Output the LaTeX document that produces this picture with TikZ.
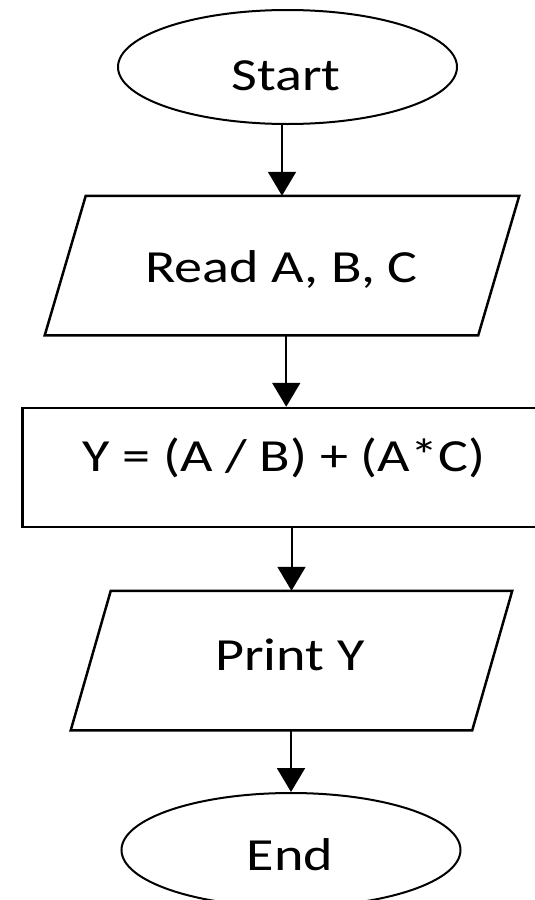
\documentclass[tikz,border=0pt]{standalone}
\usepackage{fontspec}
\setmainfont{Carlito}[FakeStretch=1.22]
\usetikzlibrary{shapes.geometric,arrows.meta}
\begin{document}
\begin{tikzpicture}[x=1pt,y=-1pt,
  term/.style={ellipse,draw,line width=2pt,minimum width=339pt,minimum height=114pt,inner sep=0pt},
  proc/.style={rectangle,draw,line width=2.5pt,minimum width=527.5pt,minimum height=119pt,inner sep=0pt},
  iobox/.style={rectangle,draw=none,inner sep=0pt,outer sep=1.25pt},
  io/.style={draw,line width=2.5pt,line join=miter},
  lbl/.style={font=\fontsize{46}{50}\selectfont,text=black,inner sep=0pt,anchor=base},
  arr/.style={line width=2pt,-{Triangle[width=28pt,length=24pt]}}]
\useasboundingbox (0,0) rectangle (535,900);
\clip (0,0) rectangle (535,900);
% shapes
\node[term] (start) at (287.5,67) {};
\node[iobox,minimum width=472pt,minimum height=137pt] (read) at (282,265.5) {};
\draw[io] ([xshift=41pt]read.north west) -- (read.north east) -- ([xshift=-41pt]read.south east) -- (read.south west) -- cycle;
\node[proc] (calc) at (286.25,467.5) {};
\node[iobox,minimum width=439pt,minimum height=137pt] (print) at (291.5,660.5) {};
\draw[io] ([xshift=40pt]print.north west) -- (print.north east) -- ([xshift=-40pt]print.south east) -- (print.south west) -- cycle;
\node[term] (end) at (291,850) {};
% labels
\node[lbl] (starttxt) at (286,90) {Start};
\node[lbl] (readtxt) at (281.5,282) {Read A, B, C};
\node[lbl] (calctxt) at (284,471) {Y = (A / B) + (A*C)};
\node[lbl] (printtxt) at (290,670) {Print Y};
\node[lbl] (endtxt) at (290,870) {End};
% connectors
\draw[arr] (read.north |- start.south) -- (read.north);
\draw[arr] (calc.north |- read.south) -- (calc.north);
\draw[arr] (print.north |- calc.south) -- (print.north);
\draw[arr] (end.north |- print.south) -- (end.north);
\end{tikzpicture}
\end{document}
